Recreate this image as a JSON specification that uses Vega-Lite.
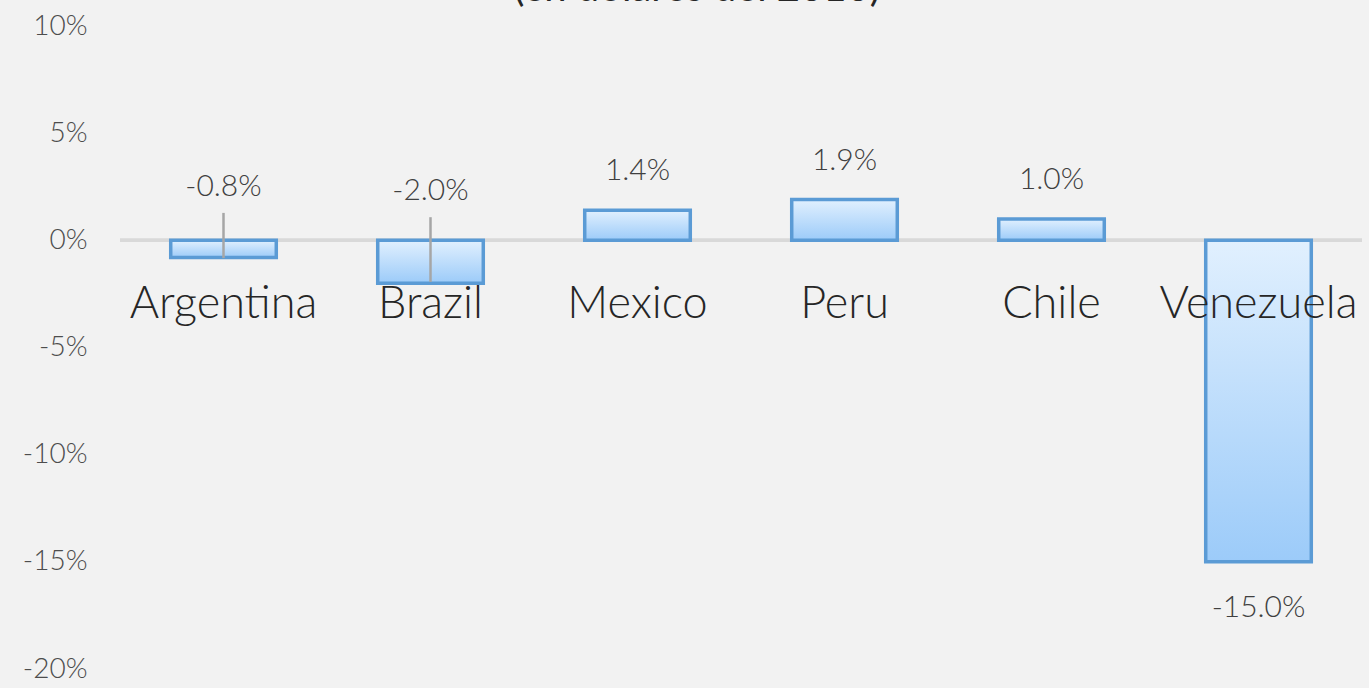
{
  "$schema": "https://vega.github.io/schema/vega-lite/v6.json",
  "width": 1242,
  "height": 643,
  "autosize": {"type": "none"},
  "padding": {"left": 120, "top": 26, "right": 7, "bottom": 19},
  "background": "#f2f2f2",
  "config": {"view": {"stroke": null}, "font": "Lato"},
  "title": {
    "text": "(en dólares del 2010)",
    "fontSize": 40,
    "font": "Lato",
    "fontWeight": "normal",
    "color": "#262626",
    "anchor": "middle",
    "dx": -44,
    "baseline": "bottom",
    "offset": -37
  },
  "data": {
    "values": [
      {"country": "Argentina", "value": -0.008, "lo": -0.0083, "hi": 0.0128},
      {"country": "Brazil", "value": -0.020, "lo": -0.0194, "hi": 0.0108},
      {"country": "Mexico", "value": 0.014, "lo": null, "hi": null},
      {"country": "Peru", "value": 0.019, "lo": null, "hi": null},
      {"country": "Chile", "value": 0.010, "lo": null, "hi": null},
      {"country": "Venezuela", "value": -0.150, "lo": null, "hi": null}
    ]
  },
  "transform": [
    {"calculate": "replace(format(datum.value, '.1%'), '\u2212', '-')", "as": "label"}
  ],
  "encoding": {
    "x": {
      "field": "country",
      "type": "nominal",
      "sort": null,
      "scale": {"paddingInner": 0.49, "paddingOuter": 0.245},
      "axis": {
        "orient": "bottom",
        "offset": -366,
        "zindex": 1,
        "title": null,
        "domain": false,
        "ticks": false,
        "tickSize": 0,
        "labelPadding": 0,
        "labelAngle": 0,
        "labelLimit": 400,
        "labelBaseline": "middle",
        "labelFont": "Lato",
        "labelFontWeight": 300,
        "labelFontSize": 45,
        "labelColor": "#262626"
      }
    }
  },
  "layer": [
    {
      "mark": {"type": "rule", "color": "#d9d9d9", "strokeWidth": 3},
      "encoding": {"x": null, "y": {"datum": 0, "type": "quantitative"}}
    },
    {
      "mark": {
        "type": "bar",
        "stroke": "#5b9bd5",
        "strokeWidth": 3.5,
        "fill": {
          "gradient": "linear",
          "x1": 0, "y1": 0, "x2": 0, "y2": 1,
          "stops": [
            {"offset": 0, "color": "#e1f0fe"},
            {"offset": 1, "color": "#9ccbf9"}
          ]
        }
      },
      "encoding": {
        "y": {
          "field": "value",
          "type": "quantitative",
          "scale": {"domain": [-0.2, 0.1], "nice": false, "zero": false},
          "axis": {
            "values": [-0.2, -0.15, -0.1, -0.05, 0, 0.05, 0.1],
            "format": ".0%",
            "labelExpr": "replace(datum.label, '\u2212', '-')",
            "title": null,
            "grid": false,
            "domain": false,
            "ticks": false,
            "tickSize": 0,
            "labelPadding": 33,
            "labelFont": "Lato",
            "labelFontWeight": 300,
            "labelFontSize": 28,
            "labelColor": "#4d4d4d"
          }
        },
        "y2": {"datum": 0}
      }
    },
    {
      "transform": [{"filter": "datum.hi != null"}],
      "mark": {"type": "rule", "color": "#a6a6a6", "strokeWidth": 2.5},
      "encoding": {
        "y": {"field": "lo", "type": "quantitative"},
        "y2": {"field": "hi"}
      }
    },
    {
      "transform": [{"filter": "datum.value > 0"}],
      "mark": {"type": "text", "dy": -39, "baseline": "middle", "fontSize": 30, "font": "Lato", "fontWeight": 300, "color": "#404040"},
      "encoding": {
        "y": {"field": "value", "type": "quantitative"},
        "text": {"field": "label", "type": "nominal"}
      }
    },
    {
      "transform": [{"filter": "datum.hi != null"}],
      "mark": {"type": "text", "dy": -26, "baseline": "middle", "fontSize": 30, "font": "Lato", "fontWeight": 300, "color": "#404040"},
      "encoding": {
        "y": {"field": "hi", "type": "quantitative"},
        "text": {"field": "label", "type": "nominal"}
      }
    },
    {
      "transform": [{"filter": "datum.value < -0.1"}],
      "mark": {"type": "text", "dy": 46, "baseline": "middle", "fontSize": 30, "font": "Lato", "fontWeight": 300, "color": "#404040"},
      "encoding": {
        "y": {"field": "value", "type": "quantitative"},
        "text": {"field": "label", "type": "nominal"}
      }
    }
  ]
}
